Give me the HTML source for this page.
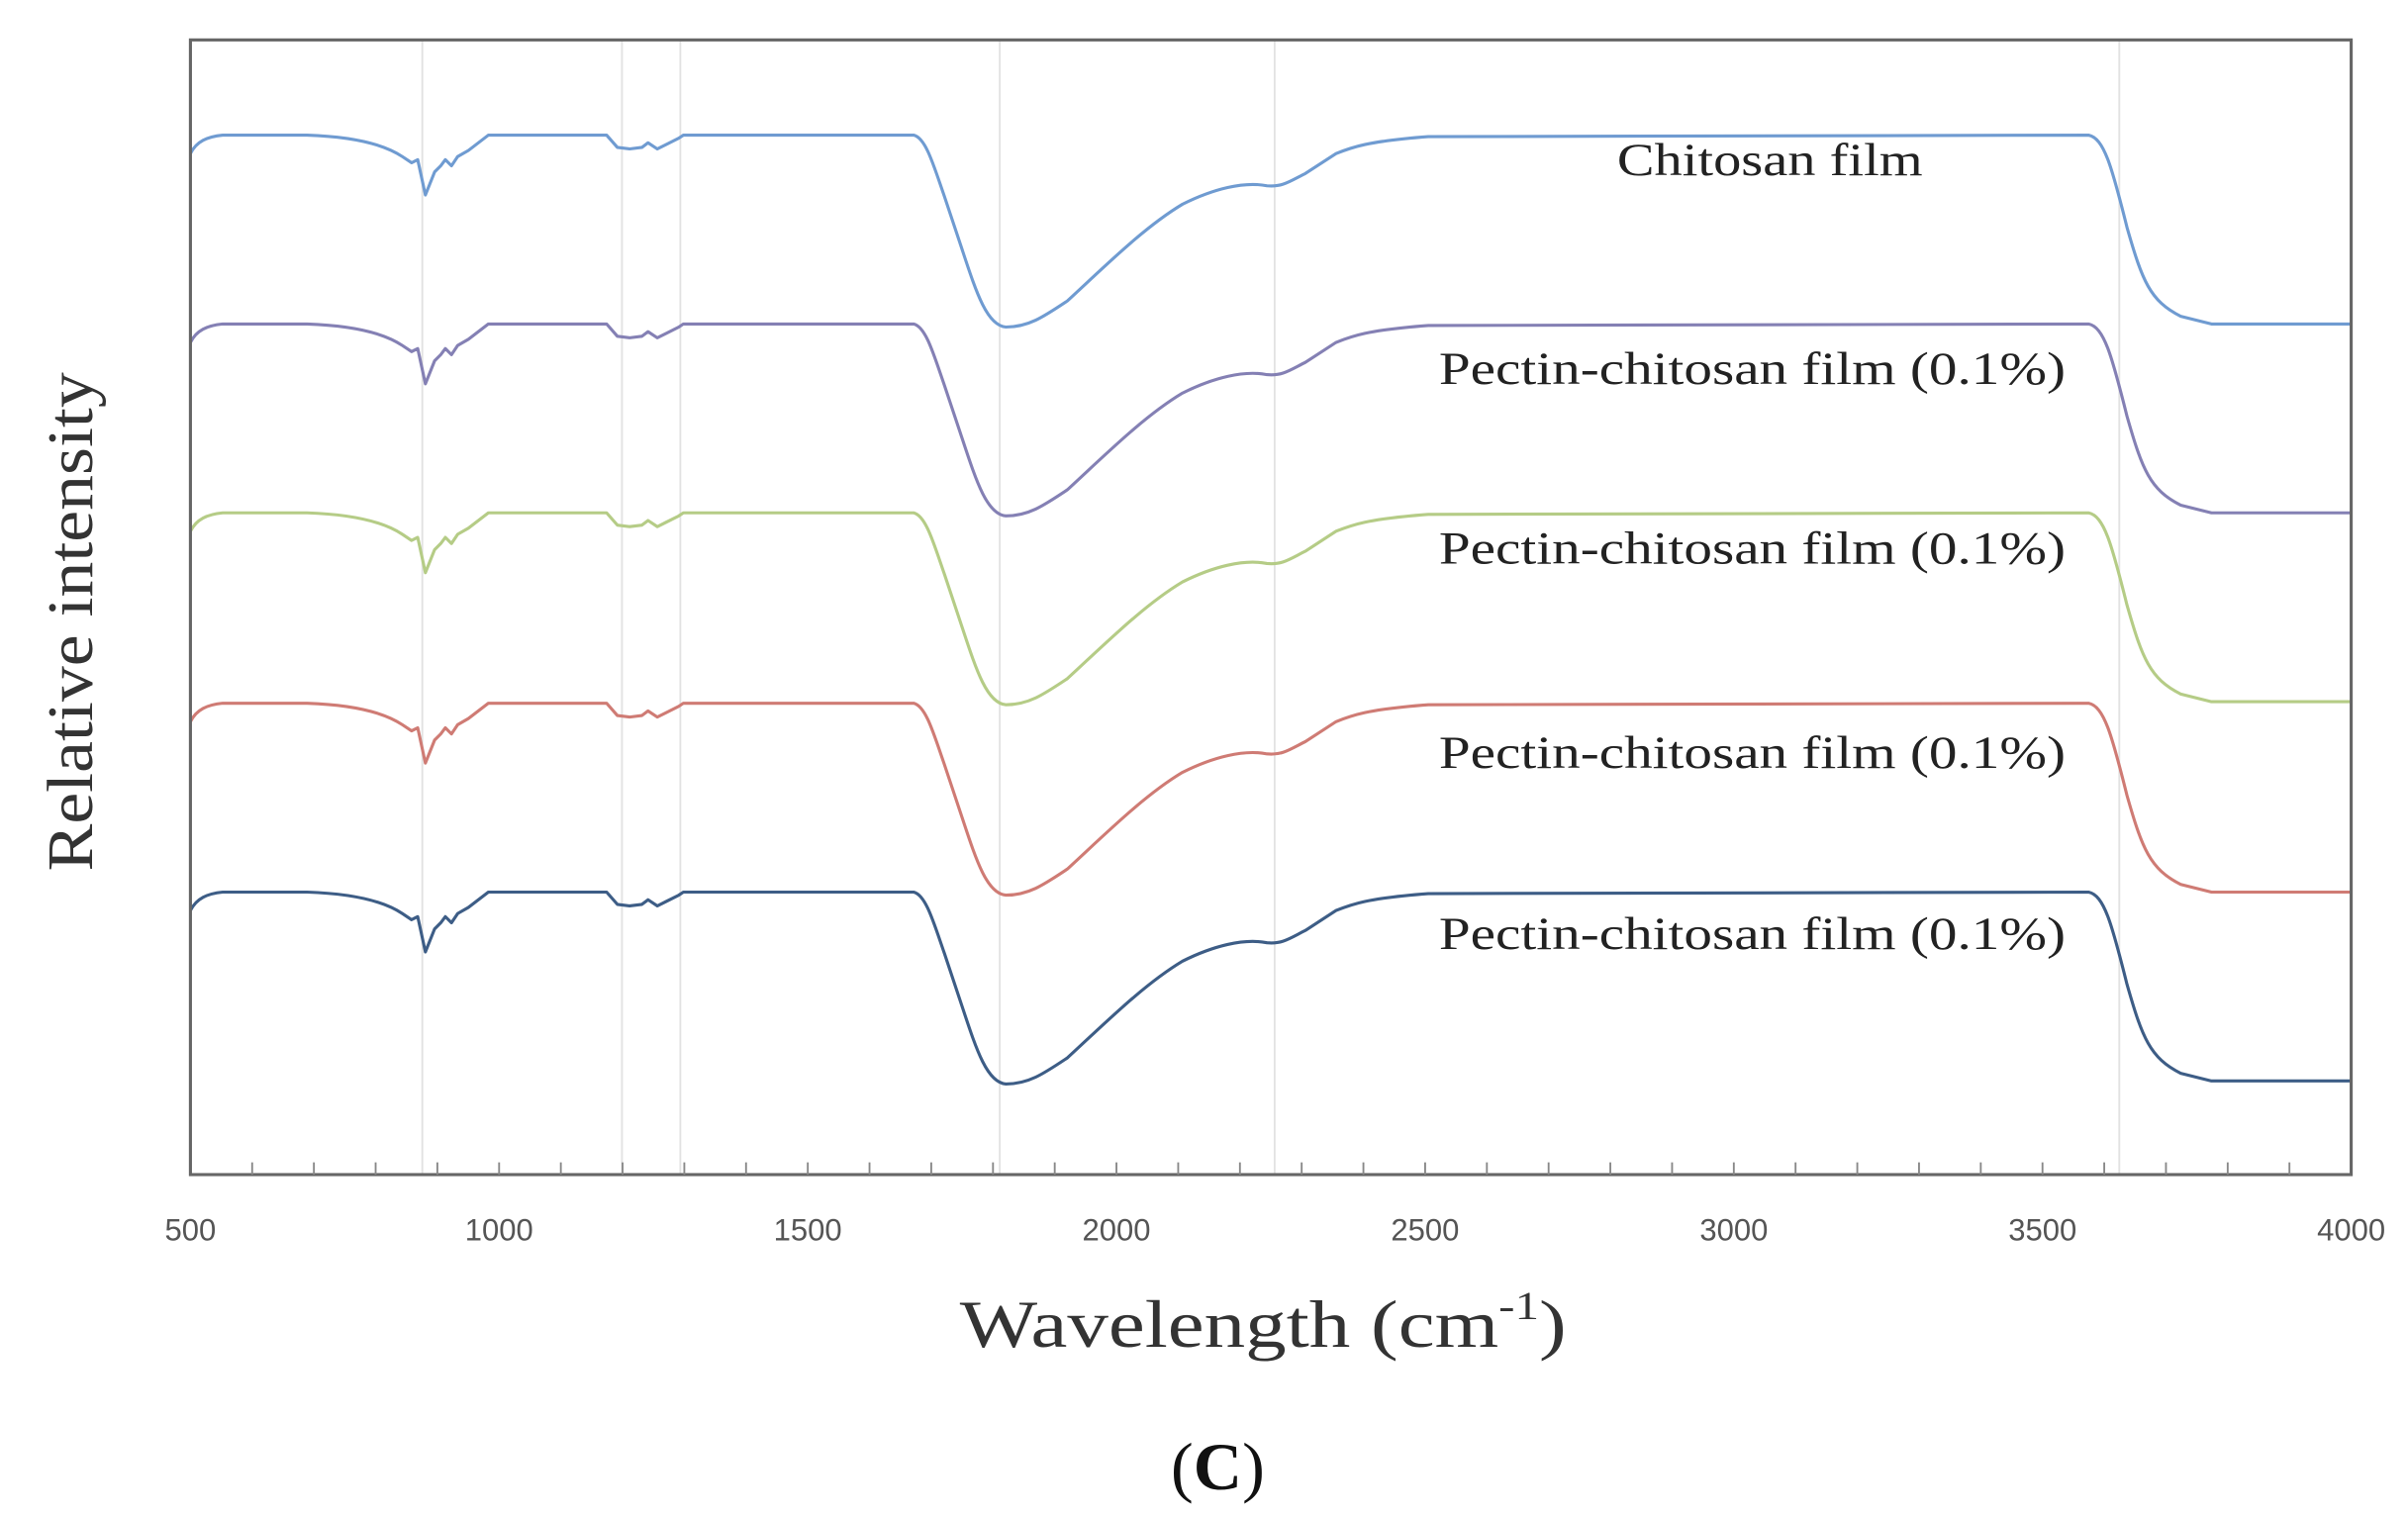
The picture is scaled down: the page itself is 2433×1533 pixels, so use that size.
<!DOCTYPE html>
<html><head><meta charset="utf-8"><style>html,body{margin:0;padding:0;background:#fff}svg{display:block}</style></head>
<body>
<svg width="2433" height="1533" viewBox="0 0 1568 988" preserveAspectRatio="none" xmlns="http://www.w3.org/2000/svg">
<defs>
<path id="c" fill="none" stroke-width="2" stroke-linejoin="round" d="M124,12 C128,4 135,1 145,0 L200,0 C230,1 250,6 262,14 L268,18 L272,16 L277,39 L283,24 L287,20 L290,16 L294,20 L298,14 L305,10 L318,0 L395,0 L402,8 L410,9 L418,8 L422,5 L428,9 L434,6 L442,2 L445,0 L595,0 C603,2 608,20 615,40 L625,70 C635,100 642,124 655,125 C670,125 680,118 695,108 C720,85 745,60 770,45 C790,35 810,30 825,33 C835,34 840,30 850,25 L870,12 C880,8 890,4 930,1 L1360,0 C1370,2 1375,20 1385,60 C1395,95 1400,108 1420,118 L1440,123 L1531,123"/>
</defs>
<g stroke="#e2e2e2" stroke-width="1.2">
<line x1="275" y1="26" x2="275" y2="765"/><line x1="405" y1="26" x2="405" y2="765"/><line x1="443" y1="26" x2="443" y2="765"/><line x1="651" y1="26" x2="651" y2="765"/><line x1="830" y1="26" x2="830" y2="765"/><line x1="1380" y1="26" x2="1380" y2="765"/>
</g>
<use href="#c" stroke="#6f9bd1" transform="translate(0,88)"/>
<use href="#c" stroke="#8480b4" transform="translate(0,211)"/>
<use href="#c" stroke="#b5cc86" transform="translate(0,334)"/>
<use href="#c" stroke="#cf7b74" transform="translate(0,458)"/>
<use href="#c" stroke="#3d5d86" transform="translate(0,581)"/>
<rect x="124" y="26" width="1407" height="739" fill="none" stroke="#666" stroke-width="2"/>
<g stroke="#888" stroke-width="1.2">
<path d="M164.2,765v-8M204.4,765v-8M244.6,765v-8M284.8,765v-8M325,765v-8M365.2,765v-8M405.4,765v-8M445.6,765v-8M485.8,765v-8M526,765v-8M566.2,765v-8M606.4,765v-8M646.6,765v-8M686.8,765v-8M727,765v-8M767.2,765v-8M807.4,765v-8M847.6,765v-8M887.8,765v-8M928,765v-8M968.2,765v-8M1008.4,765v-8M1048.6,765v-8M1088.8,765v-8M1129,765v-8M1169.2,765v-8M1209.4,765v-8M1249.6,765v-8M1289.8,765v-8M1330,765v-8M1370.2,765v-8M1410.4,765v-8M1450.6,765v-8M1490.8,765v-8"/>
</g>
<g font-family="Liberation Sans, sans-serif" font-size="20" fill="#555" text-anchor="middle">
<text x="124" y="808">500</text><text x="325" y="808">1000</text><text x="526" y="808">1500</text><text x="727" y="808">2000</text><text x="928" y="808">2500</text><text x="1129" y="808">3000</text><text x="1330" y="808">3500</text><text x="1531" y="808">4000</text>
</g>
<g font-family="Liberation Serif, serif" font-size="30" fill="#222">
<text x="1053" y="114" textLength="199" lengthAdjust="spacingAndGlyphs">Chitosan film</text>
<text x="937" y="250" textLength="408" lengthAdjust="spacingAndGlyphs">Pectin-chitosan film (0.1%)</text>
<text x="937" y="367" textLength="408" lengthAdjust="spacingAndGlyphs">Pectin-chitosan film (0.1%)</text>
<text x="937" y="500" textLength="408" lengthAdjust="spacingAndGlyphs">Pectin-chitosan film (0.1%)</text>
<text x="937" y="618" textLength="408" lengthAdjust="spacingAndGlyphs">Pectin-chitosan film (0.1%)</text>
</g>
<text transform="translate(60,405) rotate(-90)" text-anchor="middle" font-family="Liberation Serif, serif" font-size="42" fill="#333" textLength="325" lengthAdjust="spacingAndGlyphs">Relative intensity</text>
<text x="625" y="877" font-family="Liberation Serif, serif" font-size="44" fill="#333" textLength="395" lengthAdjust="spacingAndGlyphs">Wavelength (cm<tspan font-size="26" dy="-18">-1</tspan><tspan dy="18">)</tspan></text>
<text x="793" y="970" text-anchor="middle" font-family="Liberation Serif, serif" font-size="44" fill="#111">(<tspan font-weight="bold">C</tspan>)</text>
</svg>
</body></html>
